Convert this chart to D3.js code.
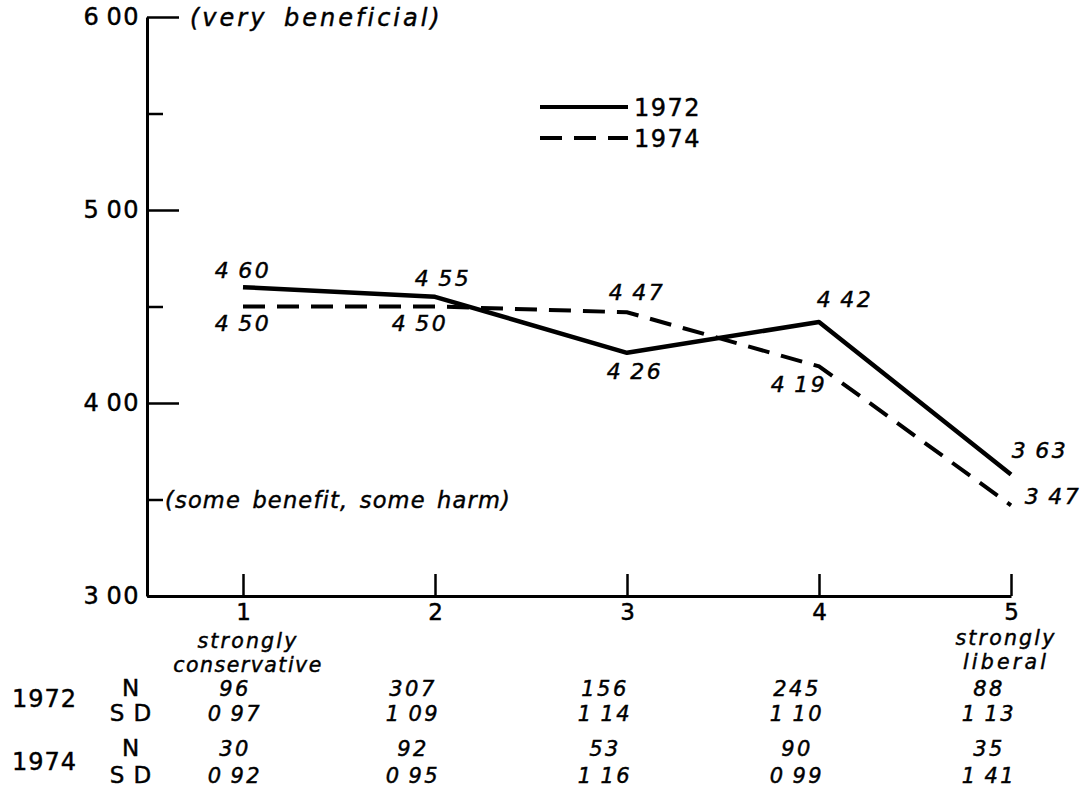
<!DOCTYPE html>
<html>
<head>
<meta charset="utf-8">
<script src="https://cdn.jsdelivr.net/npm/d3@7/dist/d3.min.js"></script>
<style>
  html, body { margin: 0; padding: 0; background: #fff; }
  svg { display: block; }
  text { font-family: "DejaVu Sans", sans-serif; fill: #000; stroke: #000; stroke-width: 0.45px; }
</style>
</head>
<body>
<svg id="chart" width="1089" height="791"></svg>
<script>
// Mean rating by political self-placement (1 = strongly conservative ... 5 = strongly liberal)
const categories = [1, 2, 3, 4, 5];
const means1972 = [4.60, 4.55, 4.26, 4.42, 3.63];
const means1974 = [4.50, 4.50, 4.47, 4.19, 3.47];
const n1972 = [96, 307, 156, 245, 88];
const sd1972 = [0.97, 1.09, 1.14, 1.10, 1.13];
const n1974 = [30, 92, 53, 90, 35];
const sd1974 = [0.92, 0.95, 1.16, 0.99, 1.41];
const yMajorTicks = [3, 4, 5, 6];
const yMinorTicks = [3.5, 4.5, 5.5];
const scaleNotes = [
  { v: 6.0, text: "(very beneficial)" },
  { v: 3.5, text: "(some benefit, some harm)" }
];

const svg = d3.select("#chart");

const x = d3.scaleLinear().domain([0.5, 5]).range([147, 1011]);
const y = d3.scaleLinear().domain([3, 6]).range([596, 17]);

// decimals are set with a thin gap instead of a point
const num = v => d3.format(".2f")(v).replace(".", "\u2009");

// y axis: ticks pointing inward, labels on the left
const yAxis = svg.append("g")
  .attr("transform", `translate(${x(0.5)},0)`)
  .call(d3.axisLeft(y).tickValues(yMajorTicks).tickSize(-32).tickSizeOuter(0)
    .tickPadding(7).tickFormat(num));
yAxis.select(".domain").attr("stroke-width", 3);
yAxis.selectAll(".tick line").attr("stroke-width", 2.5);
yAxis.selectAll(".tick text")
  .style("font-size", "24px").style("letter-spacing", "1.5px").attr("fill", "#000");

const yMinor = svg.append("g")
  .attr("transform", `translate(${x(0.5)},0)`)
  .call(d3.axisLeft(y).tickValues(yMinorTicks).tickSize(-16).tickFormat(""));
yMinor.select(".domain").remove();
yMinor.selectAll(".tick line").attr("stroke-width", 2.5);

// x axis: ticks pointing up, numbers below
const xAxis = svg.append("g")
  .attr("transform", `translate(0,${y(3)})`)
  .call(d3.axisBottom(x).tickValues(categories).tickSize(-22).tickSizeOuter(0)
    .tickPadding(8).tickFormat(d3.format("d")));
xAxis.select(".domain").attr("stroke-width", 3);
xAxis.selectAll(".tick line").attr("stroke-width", 2.5);
xAxis.selectAll(".tick text").style("font-size", "23px").attr("fill", "#000");

// scale anchor notes beside the y axis
const noteLayout = { 6: [190, 24, 3, 6], 3.5: [165, 22.5, 1.2, 3] };
svg.selectAll(".note").data(scaleNotes).join("text")
  .attr("class", "note")
  .attr("x", d => noteLayout[d.v][0])
  .attr("y", d => y(d.v))
  .attr("dy", "0.36em")
  .style("font-size", d => noteLayout[d.v][1] + "px")
  .style("letter-spacing", d => noteLayout[d.v][2] + "px")
  .style("word-spacing", d => noteLayout[d.v][3] + "px")
  .style("font-style", "italic")
  .text(d => d.text);

// series lines
const line = vals => d3.line().x((d, i) => x(categories[i])).y(d => y(d))(vals);

svg.append("path").attr("d", line(means1974))
  .attr("fill", "none").attr("stroke", "#000").attr("stroke-width", 4)
  .attr("stroke-dasharray", "22,12");
svg.append("path").attr("d", line(means1972))
  .attr("fill", "none").attr("stroke", "#000").attr("stroke-width", 4.5)
  .attr("stroke-linejoin", "round");

// value labels
const labelStyle = sel => sel.style("font-size", "22px").style("font-style", "italic")
  .style("letter-spacing", "2.5px").attr("text-anchor", "middle");

const off1972 = [[0, -17], [8, -19], [8, 18], [26, -23], [29, -24]];
const off1974 = [[0, 17], [-15, 17], [10, -20], [-20, 18], [42, -9]];

svg.selectAll(".lab72").data(means1972).join("text")
  .attr("class", "lab72")
  .attr("x", (d, i) => x(categories[i]) + off1972[i][0])
  .attr("y", (d, i) => y(d) + off1972[i][1])
  .attr("dy", "0.36em").call(labelStyle).text(num);

svg.selectAll(".lab74").data(means1974).join("text")
  .attr("class", "lab74")
  .attr("x", (d, i) => x(categories[i]) + off1974[i][0])
  .attr("y", (d, i) => y(d) + off1974[i][1])
  .attr("dy", "0.36em").call(labelStyle).text(num);

// legend
const legend = svg.append("g");
[["1972", null, 107], ["1974", "22,12", 138]].forEach(([lab, dash, ly]) => {
  legend.append("line").attr("x1", 540).attr("x2", 628).attr("y1", ly).attr("y2", ly)
    .attr("stroke", "#000").attr("stroke-width", 4).attr("stroke-dasharray", dash);
  legend.append("text").attr("x", 634).attr("y", ly).attr("dy", "0.36em")
    .style("font-size", "24px").style("letter-spacing", "1.5px").text(lab);
});

// end-point descriptions under the x axis (two lines each)
const ends = [
  { c: 1, dx: 5, lines: [["strongly", 2.2], ["conservative", 1.5]], y0: 641 },
  { c: 5, dx: -5, lines: [["strongly", 2.2], ["liberal", 3.2]], y0: 638 }
];
ends.forEach(e => {
  e.lines.forEach(([s, ls], k) => {
    svg.append("text").attr("x", x(e.c) + e.dx).attr("y", e.y0 + k * 24)
      .attr("dy", "0.36em").attr("text-anchor", "middle")
      .style("font-size", "20.5px").style("font-style", "italic")
      .style("letter-spacing", ls + "px").text(s);
  });
});

// sample sizes and standard deviations
const rows = [
  { vals: n1972, fmt: d3.format("d"), ly: 688, key: "N" },
  { vals: sd1972, fmt: num, ly: 713, key: "S D" },
  { vals: n1974, fmt: d3.format("d"), ly: 748, key: "N" },
  { vals: sd1974, fmt: num, ly: 775, key: "S D" }
];
rows.forEach(r => {
  svg.append("text").attr("x", 131).attr("y", r.ly).attr("dy", "0.36em")
    .attr("text-anchor", "middle").style("font-size", "23px").style("letter-spacing", "1px")
    .text(r.key);
  svg.selectAll(null).data(r.vals).join("text")
    .attr("x", (d, i) => x(categories[i]) - (i === 0 ? 8 : 22))
    .attr("y", r.ly).attr("dy", "0.36em")
    .call(labelStyle).style("font-size", "21px").text(r.fmt);
});
[["1972", 698], ["1974", 761]].forEach(([t, ly]) => {
  svg.append("text").attr("x", 12).attr("y", ly).attr("dy", "0.36em")
    .style("font-size", "24px").style("letter-spacing", "1px").text(t);
});
</script>
</body>
</html>
